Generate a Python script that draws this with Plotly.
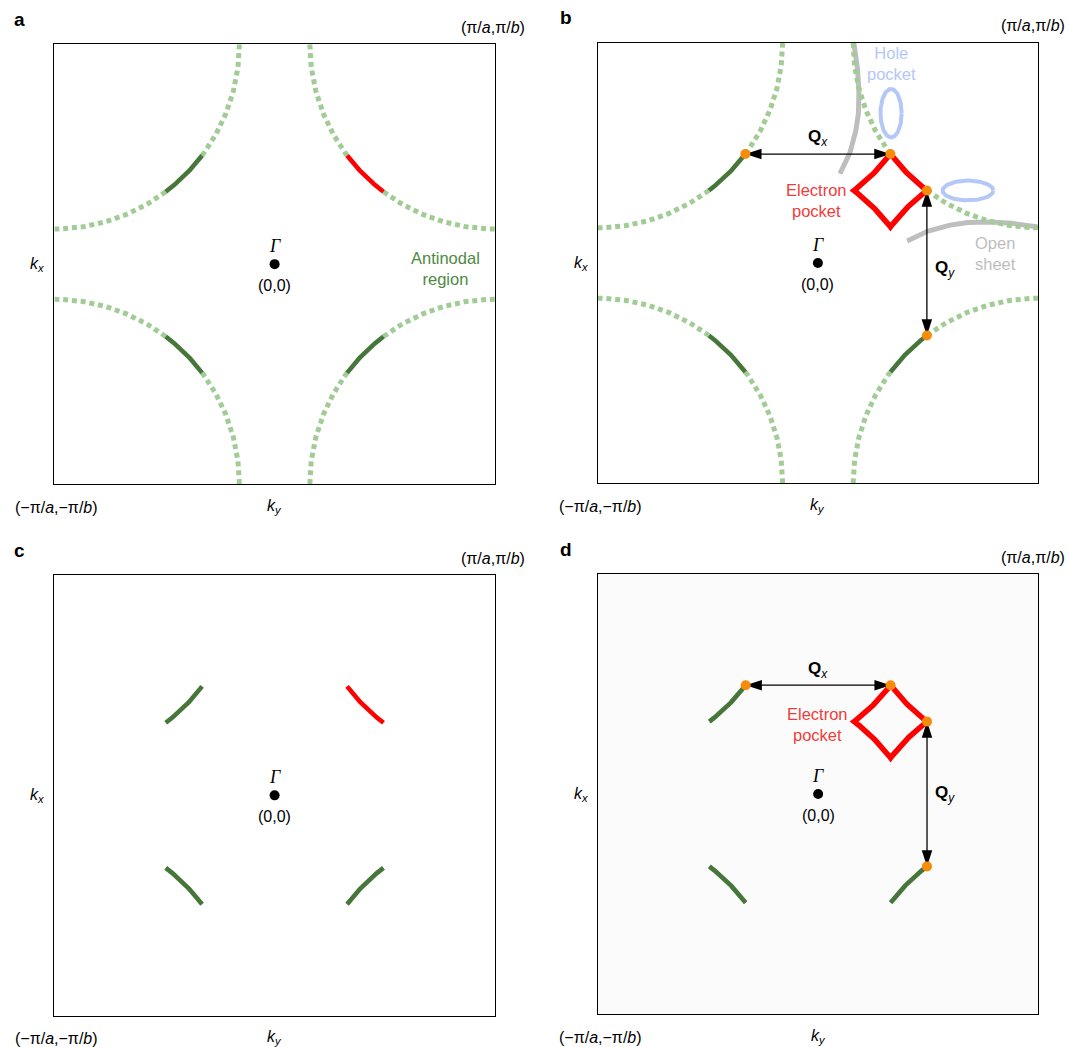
import numpy as np
import plotly.graph_objects as go

# ---------------------------------------------------------------------------
# Fermi-surface schematic of the first Brillouin zone, k in units of pi/a, pi/b
# ---------------------------------------------------------------------------
FS_RADIUS = 0.84                    # radius of the Fermi arcs about each zone corner
CORNER_KX = [1, -1, -1, 1]          # zone corners: top-right, top-left, bottom-left, bottom-right
CORNER_KY = [1, 1, -1, -1]
ARC_PHI = [0.0, 90.0]               # full arc, edge to edge (deg)
NODAL_PHI = [37.0, 53.0]            # nodal section of each arc (deg)
NODAL_COLORS_AC = ["red", "green", "green", "green"]

# Hole pockets (centre, semi-axes)
HOLE_KX = [0.332, 0.681]
HOLE_KY = [0.680, 0.329]
HOLE_AX = [0.048, 0.115]
HOLE_AY = [0.110, 0.045]

# Open sheet near the top edge (the second one is its mirror about kx = ky)
OPEN_KX = [0.163, 0.180, 0.186, 0.184, 0.172, 0.145, 0.100]
OPEN_KY = [1.000, 0.880, 0.780, 0.680, 0.600, 0.500, 0.405]

# Text positions (data coordinates)
ANTINODAL_POS = (0.777, -0.018)
HOLE_LABEL_POS = (0.332, 0.905)
OPEN_LABEL_POS = (0.807, 0.045)
ELECTRON_POS = {"b": (-0.005, 0.285), "d": (-0.005, 0.318)}
QX_LABEL_POS = {"b": (0.0, 0.568), "d": (0.0, 0.564)}
QY_LABEL_POS = {"b": (0.577, -0.027), "d": (0.577, -0.002)}

# Colours
C_DOTTED = "#a1cc96"
C_DARK = "#46763a"
C_RED = "#ff0000"
C_ORANGE = "#f68b0c"
C_HOLE = "#b4c8f8"
C_OPEN = "#bebebe"
C_ANTINODAL = "#4d8a3f"
C_ELECTRON = "#ef3d3d"

SANS = "Liberation Sans, Arial, sans-serif"
SERIF = "Liberation Serif, Times New Roman, serif"

W, H = 1069, 1047
# Plot boxes in pixels: left, right, top, bottom
BOX_PX = {
    "a": (54.4, 494.8, 44.3, 484.0),
    "b": (597.5, 1038.3, 42.7, 483.3),
    "c": (54.4, 494.8, 575.0, 1015.7),
    "d": (598.0, 1038.3, 574.0, 1014.0),
}
PANELS = ["a", "b", "c", "d"]


def arc(cx, cy, sx, sy, phi0, phi1, n=80):
    phi = np.radians(np.linspace(phi0, phi1, n))
    return cx - sx * FS_RADIUS * np.cos(phi), cy - sy * FS_RADIUS * np.sin(phi)


def corner_arc(i, phi0, phi1):
    cx, cy = CORNER_KX[i], CORNER_KY[i]
    return arc(cx, cy, np.sign(cx), np.sign(cy), phi0, phi1)


# Nesting vector length: separation of the nodal-arc ends on neighbouring arcs
Q = 2 * (1 - FS_RADIUS * np.cos(np.radians(NODAL_PHI[0])))

fig = go.Figure()
annotations = []
shapes = []


def ax_names(k):
    n = PANELS.index(k) + 1
    s = "" if n == 1 else str(n)
    return "x" + s, "y" + s


def add_line(k, x, y, color, width, dash=None):
    xa, ya = ax_names(k)
    fig.add_trace(go.Scatter(
        x=x, y=y, mode="lines", xaxis=xa, yaxis=ya, hoverinfo="skip",
        line=dict(color=color, width=width, dash=dash), showlegend=False))


def add_text(k, text, x, y, size=16, color="black", family=SANS,
             xref="data", xshift=0, yshift=0, xanchor="center",
             yanchor="middle"):
    xa, ya = ax_names(k)
    if xref == "data":
        xr, yr = xa, ya
    else:
        xr, yr = xa + " domain", ya + " domain"
    annotations.append(dict(
        text=text, x=x, y=y, xref=xr, yref=yr, showarrow=False,
        xshift=xshift, yshift=yshift, xanchor=xanchor, yanchor=yanchor,
        font=dict(size=size, color=color, family=family), align="center"))


for k in PANELS:
    xa, ya = ax_names(k)
    has_dotted = k in ("a", "b")
    has_pocket = k in ("b", "d")

    if k == "d":
        shapes.append(dict(type="rect", xref=xa + " domain", yref=ya + " domain",
                           x0=0, x1=1, y0=0, y1=1, fillcolor="#fbfbfb",
                           line=dict(width=0), layer="below"))

    # open sheets and hole pockets (panel b)
    if k == "b":
        add_line(k, OPEN_KX, OPEN_KY, C_OPEN, 5)
        add_line(k, OPEN_KY, OPEN_KX, C_OPEN, 5)
        t = np.linspace(0, 2 * np.pi, 120)
        for hx, hy, ax_, ay_ in zip(HOLE_KX, HOLE_KY, HOLE_AX, HOLE_AY):
            add_line(k, hx + ax_ * np.cos(t), hy + ay_ * np.sin(t), C_HOLE, 4)

    # dotted (gapped) antinodal parts of the arcs
    if has_dotted:
        for i in range(4):
            for p0, p1 in ((ARC_PHI[0], NODAL_PHI[0]), (NODAL_PHI[1], ARC_PHI[1])):
                x, y = corner_arc(i, p0, p1)
                add_line(k, x, y, C_DOTTED, 5, dash="5px,3.8px")

    # nodal arcs
    for i in range(4):
        if has_pocket and i == 0:
            continue
        x, y = corner_arc(i, NODAL_PHI[0], NODAL_PHI[1])
        col = C_RED if NODAL_COLORS_AC[i] == "red" else C_DARK
        add_line(k, x, y, col, 4.6)

    if has_pocket:
        # reconstructed electron pocket: arcs folded by Qx, Qy
        segs = [
            arc(1, 1, 1, 1, NODAL_PHI[0], NODAL_PHI[1]),
            arc(1, -1 + Q, 1, -1, NODAL_PHI[1], NODAL_PHI[0]),
            arc(-1 + Q, -1 + Q, -1, -1, NODAL_PHI[0], NODAL_PHI[1]),
            arc(-1 + Q, 1, -1, 1, NODAL_PHI[1], NODAL_PHI[0]),
        ]
        px = np.concatenate([s[0] for s in segs])
        py = np.concatenate([s[1] for s in segs])
        add_line(k, px, py, C_RED, 5.5)

        # nesting vectors Qx, Qy between nodal-arc ends
        tlx, tly = corner_arc(1, NODAL_PHI[0], NODAL_PHI[0] + 1)
        trx, try_ = corner_arc(0, NODAL_PHI[0], NODAL_PHI[0] + 1)
        rvx, rvy = corner_arc(0, NODAL_PHI[1], NODAL_PHI[1] + 1)
        brx, bry = corner_arc(3, NODAL_PHI[1], NODAL_PHI[1] + 1)
        ends = [((tlx[0], trx[0]), (tly[0], try_[0]), [270, 90]),
                ((rvx[0], brx[0]), (rvy[0], bry[0]), [0, 180])]
        for ex, ey, ang in ends:
            fig.add_trace(go.Scatter(
                x=list(ex), y=list(ey), mode="lines+markers", xaxis=xa, yaxis=ya,
                hoverinfo="skip", showlegend=False,
                line=dict(color="black", width=1.3),
                marker=dict(symbol="arrow", size=17, angle=ang, color="black",
                            line=dict(width=0))))
        dots_x = [tlx[0], trx[0], rvx[0], brx[0]]
        dots_y = [tly[0], try_[0], rvy[0], bry[0]]
        fig.add_trace(go.Scatter(
            x=dots_x, y=dots_y, mode="markers", xaxis=xa, yaxis=ya,
            hoverinfo="skip", showlegend=False,
            marker=dict(size=10, color=C_ORANGE, line=dict(width=0))))

        ex_, ey_ = ELECTRON_POS[k]
        add_text(k, "Electron<br>pocket", ex_, ey_, size=16.5, color=C_ELECTRON)
        qx, qy = QX_LABEL_POS[k]
        add_text(k, "<b>Q</b><sub><i>x</i></sub>", qx, qy, size=17)
        qx, qy = QY_LABEL_POS[k]
        add_text(k, "<b>Q</b><sub><i>y</i></sub>", qx, qy, size=17)

    if k == "a":
        add_text(k, "Antinodal<br>region", ANTINODAL_POS[0], ANTINODAL_POS[1],
                 size=16.5, color=C_ANTINODAL)
    if k == "b":
        add_text(k, "Hole<br>pocket", HOLE_LABEL_POS[0], HOLE_LABEL_POS[1],
                 size=16.5, color=C_HOLE)
        add_text(k, "Open<br>sheet", OPEN_LABEL_POS[0], OPEN_LABEL_POS[1],
                 size=16.5, color=C_OPEN)

    # Gamma point
    fig.add_trace(go.Scatter(
        x=[0], y=[0], mode="markers", xaxis=xa, yaxis=ya, hoverinfo="skip",
        showlegend=False, marker=dict(size=10, color="black")))
    add_text(k, "<i>Γ</i>", 0, 0, size=18, family=SERIF, yshift=18)
    add_text(k, "(0,0)", 0, 0, size=16, yshift=-21)

    # panel letter, corner labels and axis labels
    right_shift = 32 if k in ("a", "c") else 29
    add_text(k, "<b>%s</b>" % k, 0, 1, size=19, xref="domain",
             xshift=-42 if k in ("a", "c") else -40, yshift=25, xanchor="left")
    add_text(k, "(π/<i>a</i>,π/<i>b</i>)", 1, 1, size=16, xref="domain",
             xshift=right_shift, yshift=17, xanchor="right")
    add_text(k, "(−π/<i>a</i>,−π/<i>b</i>)", 0, 0, size=16, xref="domain",
             xshift=-41, yshift=-23, xanchor="left")
    add_text(k, "<i>k</i><sub><i>y</i></sub>", 0.5, 0, size=16, xref="domain",
             yshift=-22)
    add_text(k, "<i>k</i><sub><i>x</i></sub>", 0, 0.5, size=16, xref="domain",
             xshift=-17, yshift=0)

layout = dict(
    width=W, height=H, margin=dict(l=0, r=0, t=0, b=0),
    paper_bgcolor="white", plot_bgcolor="white",
    font=dict(family=SANS, size=16, color="black"),
    annotations=annotations, shapes=shapes, showlegend=False,
)
for k in PANELS:
    left, right, top, bottom = BOX_PX[k]
    n = PANELS.index(k) + 1
    s = "" if n == 1 else str(n)
    axis = dict(range=[-1, 1], showgrid=False, zeroline=False,
                showticklabels=False, ticks="", showline=True, mirror=True,
                linecolor="black", linewidth=1.3, fixedrange=True)
    layout["xaxis" + s] = dict(axis, domain=[left / W, right / W],
                               anchor="y" + s)
    layout["yaxis" + s] = dict(axis, domain=[1 - bottom / H, 1 - top / H],
                               anchor="x" + s)

fig.update_layout(**layout)
fig.write_html("out.html")
